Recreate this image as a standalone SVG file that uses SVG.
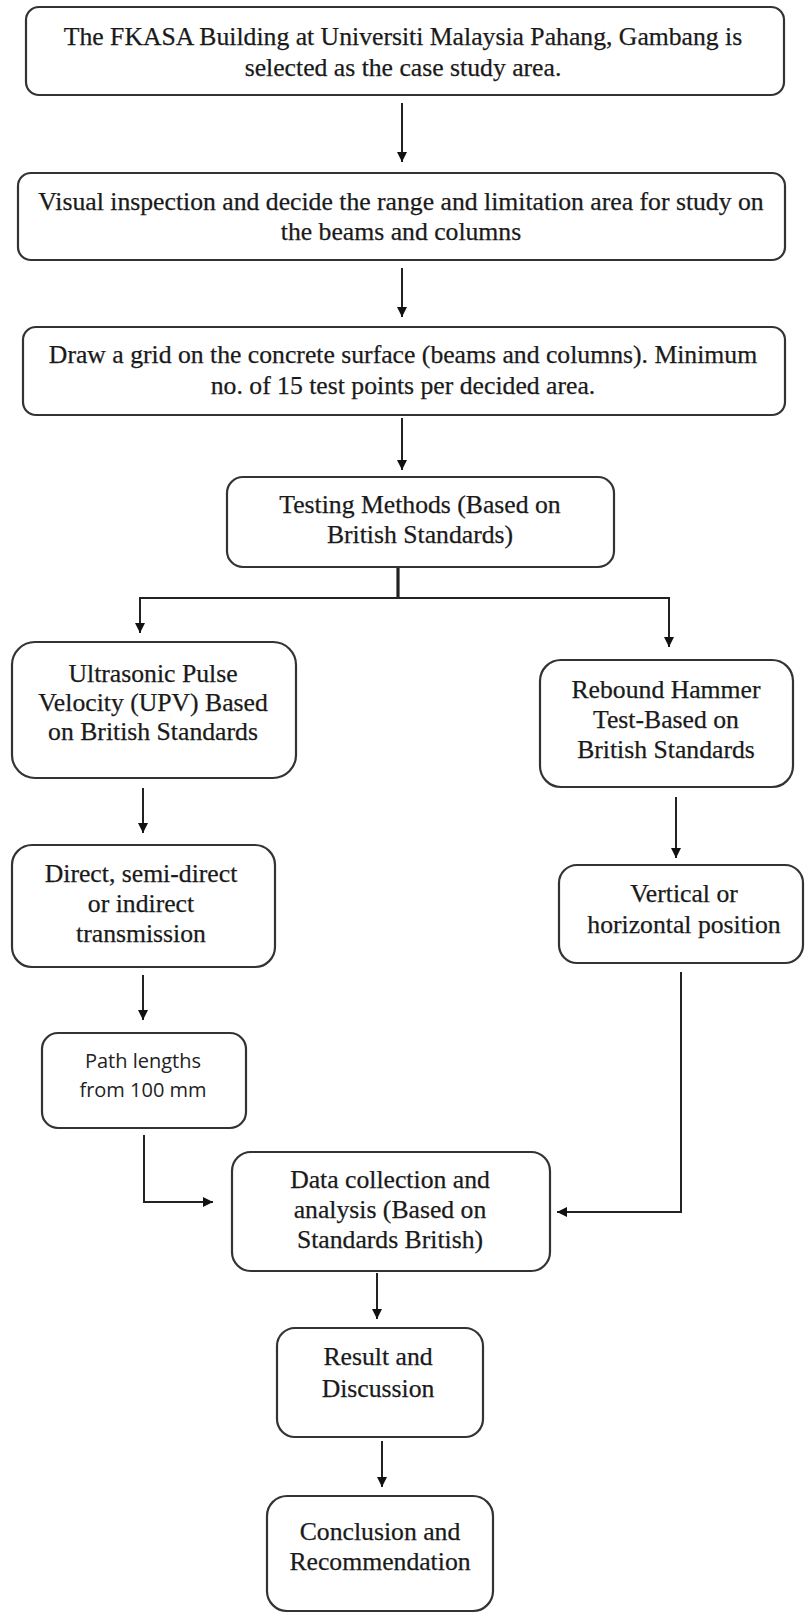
<svg xmlns="http://www.w3.org/2000/svg" width="805" height="1613" viewBox="0 0 805 1613">
<defs>
<style>
.box{fill:#ffffff;stroke:#333333;stroke-width:2.2}
.t{font-family:"Liberation Serif","Times New Roman",serif;font-size:25.7px;fill:#1a1a1a;stroke:#1a1a1a;stroke-width:0.25;text-anchor:middle}
.s{font-family:"Open Sans","Noto Sans",sans-serif;font-size:20px;fill:#222222;text-anchor:middle}
.c{fill:none;stroke:#222222;stroke-width:2}
</style>
<marker id="ah" markerUnits="userSpaceOnUse" markerWidth="10" markerHeight="10" refX="10" refY="5" orient="auto">
<path d="M0,0 L10,5 L0,10 z" fill="#111111"/>
</marker>
</defs>
<rect width="805" height="1613" fill="#ffffff"/>
<g id="connectors">
<line class="c" x1="402" y1="103" x2="402" y2="162" marker-end="url(#ah)"/>
<line class="c" x1="402" y1="268" x2="402" y2="317" marker-end="url(#ah)"/>
<line class="c" x1="402" y1="418" x2="402" y2="470" marker-end="url(#ah)"/>
<line class="c" x1="398" y1="567" x2="398" y2="599" style="stroke-width:3.2"/>
<polyline class="c" points="140,633 140,598 669,598 669,647" marker-end="url(#ah)"/>
<line class="c" x1="140" y1="598" x2="140" y2="633" marker-end="url(#ah)"/>
<line class="c" x1="143" y1="788" x2="143" y2="833" marker-end="url(#ah)"/>
<line class="c" x1="676" y1="797" x2="676" y2="858" marker-end="url(#ah)"/>
<line class="c" x1="143" y1="975" x2="143" y2="1020" marker-end="url(#ah)"/>
<polyline class="c" points="144,1135 144,1202 213,1202" marker-end="url(#ah)"/>
<polyline class="c" points="681,972 681,1212 557,1212" marker-end="url(#ah)"/>
<line class="c" x1="377" y1="1273" x2="377" y2="1319" marker-end="url(#ah)"/>
<line class="c" x1="382" y1="1441" x2="382" y2="1487" marker-end="url(#ah)"/>
</g>
<g id="n1">
<rect class="box" x="26" y="7" width="758" height="88" rx="13"/>
<text class="t" x="403" y="45">The FKASA Building at Universiti Malaysia Pahang, Gambang is</text>
<text class="t" x="403" y="76">selected as the case study area.</text>
</g>
<g id="n2">
<rect class="box" x="18" y="173" width="767" height="87" rx="13"/>
<text class="t" x="401" y="210">Visual inspection and decide the range and limitation area for study on</text>
<text class="t" x="401" y="240">the beams and columns</text>
</g>
<g id="n3">
<rect class="box" x="23" y="327" width="762" height="88" rx="13"/>
<text class="t" x="403" y="363">Draw a grid on the concrete surface (beams and columns). Minimum</text>
<text class="t" x="403" y="394">no. of 15 test points per decided area.</text>
</g>
<g id="n4">
<rect class="box" x="227" y="477" width="387" height="90" rx="16"/>
<text class="t" x="420" y="513">Testing Methods (Based on</text>
<text class="t" x="420" y="543">British Standards)</text>
</g>
<g id="n5">
<rect class="box" x="12" y="642" width="284" height="136" rx="23"/>
<text class="t" x="153" y="682">Ultrasonic Pulse</text>
<text class="t" x="153" y="711">Velocity (UPV) Based</text>
<text class="t" x="153" y="740">on British Standards</text>
</g>
<g id="n6">
<rect class="box" x="540" y="660" width="253" height="127" rx="21"/>
<text class="t" x="666" y="698">Rebound Hammer</text>
<text class="t" x="666" y="728">Test-Based on</text>
<text class="t" x="666" y="758">British Standards</text>
</g>
<g id="n7">
<rect class="box" x="12" y="845" width="263" height="122" rx="20"/>
<text class="t" x="141" y="882">Direct, semi-direct</text>
<text class="t" x="141" y="912">or indirect</text>
<text class="t" x="141" y="942">transmission</text>
</g>
<g id="n8">
<rect class="box" x="559" y="865" width="244" height="98" rx="18"/>
<text class="t" x="684" y="902">Vertical or</text>
<text class="t" x="684" y="933">horizontal position</text>
</g>
<g id="n9">
<rect class="box" x="42" y="1033" width="204" height="95" rx="16"/>
<text class="s" x="143" y="1068">Path lengths</text>
<text class="s" x="143" y="1097">from 100 mm</text>
</g>
<g id="n10">
<rect class="box" x="232" y="1152" width="318" height="119" rx="19"/>
<text class="t" x="390" y="1188">Data collection and</text>
<text class="t" x="390" y="1218">analysis (Based on</text>
<text class="t" x="390" y="1248">Standards British)</text>
</g>
<g id="n11">
<rect class="box" x="277" y="1328" width="206" height="109" rx="18"/>
<text class="t" x="378" y="1365">Result and</text>
<text class="t" x="378" y="1397">Discussion</text>
</g>
<g id="n12">
<rect class="box" x="267" y="1496" width="226" height="115" rx="20"/>
<text class="t" x="380" y="1540">Conclusion and</text>
<text class="t" x="380" y="1570">Recommendation</text>
</g>
</svg>
